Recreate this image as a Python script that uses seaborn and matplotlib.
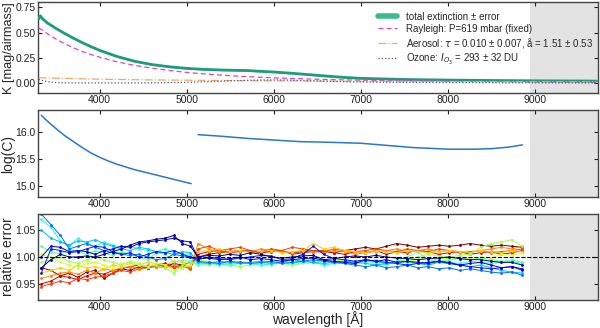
import numpy as np
import pandas as pd
import seaborn as sns
import matplotlib.pyplot as plt
from matplotlib.lines import Line2D

# --- extinction curve (top panel) ---
wl_k = [3300, 3320, 3340, 3400, 3500, 3600, 3700, 3800, 3900, 4000, 4200, 4400,
        4600, 4800, 5000, 5200, 5400, 5600, 5700, 5800, 6000, 6200, 6400, 6600,
        6800, 7000, 7500, 8000, 8500, 9000, 9500, 9700]
k_total = [0.635, 0.665, 0.640, 0.595, 0.540, 0.490, 0.443, 0.400, 0.360, 0.323, 0.262, 0.215,
           0.182, 0.160, 0.144, 0.134, 0.128, 0.124, 0.123, 0.117, 0.108, 0.096, 0.082, 0.068,
           0.055, 0.045, 0.034, 0.028, 0.024, 0.021, 0.019, 0.018]
k_err = [0.012, 0.012, 0.012, 0.011, 0.010, 0.010, 0.009, 0.009, 0.008, 0.008, 0.008, 0.007,
         0.007, 0.007, 0.007, 0.006, 0.006, 0.006, 0.006, 0.006, 0.006, 0.006, 0.006, 0.005,
         0.005, 0.005, 0.005, 0.005, 0.005, 0.005, 0.005, 0.005]
k_rayleigh = [0.545, 0.535, 0.525, 0.488, 0.434, 0.388, 0.348, 0.312, 0.282, 0.255, 0.209, 0.174,
              0.146, 0.123, 0.104, 0.089, 0.077, 0.066, 0.062, 0.058, 0.050, 0.044, 0.039, 0.034,
              0.030, 0.027, 0.021, 0.016, 0.0125, 0.010, 0.008, 0.0074]
k_aerosol = [0.052, 0.051, 0.051, 0.049, 0.047, 0.045, 0.043, 0.041, 0.039, 0.037, 0.034, 0.032,
             0.030, 0.028, 0.027, 0.025, 0.024, 0.022, 0.022, 0.021, 0.020, 0.019, 0.018, 0.017,
             0.017, 0.016, 0.014, 0.013, 0.012, 0.011, 0.010, 0.010]
k_ozone = [0.035, 0.030, 0.025, 0.012, 0.003, 0.001, 0.0, 0.0, 0.0, 0.0, 0.0, 0.0,
           0.001, 0.003, 0.006, 0.011, 0.017, 0.024, 0.026, 0.028, 0.030, 0.027, 0.022, 0.017,
           0.012, 0.009, 0.005, 0.003, 0.002, 0.001, 0.0, 0.0]

# --- instrument response (middle panel) ---
wl_c1 = [3330, 3400, 3500, 3600, 3700, 3800, 3900, 4000, 4100, 4200, 4400, 4600, 4800, 5000, 5050]
logc1 = [16.32, 16.21, 16.07, 15.94, 15.83, 15.72, 15.62, 15.54, 15.47, 15.41, 15.31, 15.23, 15.15, 15.07, 15.05]
wl_c2 = [5130, 5400, 5700, 6000, 6300, 6600, 7000, 7300, 7600, 8000, 8300, 8500, 8700, 8850]
logc2 = [15.96, 15.93, 15.89, 15.86, 15.83, 15.82, 15.80, 15.76, 15.72, 15.69, 15.69, 15.70, 15.73, 15.77]

# --- relative error of individual stars (bottom panel), per mille offsets from 1 ---
wl_r = [3330, 3440, 3550, 3650, 3750, 3850, 3950, 4050, 4150, 4250, 4350, 4450, 4550, 4650,
        4750, 4850, 4950, 5040,
        5130, 5250, 5370, 5490, 5610, 5730, 5850, 5970, 6090, 6210, 6330, 6450, 6570, 6690,
        6810, 6930, 7050, 7170, 7290, 7410, 7530, 7650, 7770, 7890, 8010, 8130, 8250, 8370,
        8490, 8610, 8730, 8850]
rel = [
    [-20, -5, 5, 0, 0, 2, 0, 5, 10, 15, 22, 28, 30, 33, 35, 40, 25, 20,
     0, 3, 2, 5, 3, 8, 5, 0, -2, 0, 2, 3, -5, -3, 0, 2, 0, 3, 0, -2, -3, -5, -3, -2, 0, -3, -5, -5, -8, -10, -10, -15],
    [0, 20, 18, 10, 12, 10, 5, 12, 15, 20, 18, 25, 28, 30, 32, 35, 30, 28,
     -3, -2, -5, -3, 0, -5, -3, -5, -8, -5, -3, -2, -6, -8, -10, -12, -5, -8, -5, -10, -8, -10, -12, -8, -10, -15, -12, -10, -15, -20, -18, -22],
    [-30, 15, 12, 8, 10, 15, 20, 18, 10, 5, 8, 0, 5, 10, 8, 12, 5, 0,
     -5, 0, -3, -5, -2, 0, 3, 2, -5, -3, 5, 20, 5, -3, -5, -8, -5, -8, -10, -12, -15, -12, -10, -8, -12, -15, -18, -20, -22, -20, -18, -25],
    [80, 60, 40, 15, 20, 25, 18, 12, 8, 5, 3, 5, 0, -5, -3, 5, 2, 0,
     -8, -10, -12, -8, -10, -12, -10, -8, -12, -10, -8, -5, -8, -10, -12, -15, -18, -15, -20, -18, -15, -20, -18, -22, -20, -25, -22, -25, -28, -30, -28, -34],
    [50, 35, 28, 22, 30, 28, 32, 25, 20, 15, 12, 18, 15, 10, 8, 5, 10, 8,
     -10, -12, -8, -10, -12, -10, -8, -12, -10, -5, -8, -10, -12, -10, -8, -10, -12, -15, -12, -10, -8, -12, -15, -10, -12, -15, -18, -15, -20, -25, -28, -30],
    [70, 55, 30, 20, 35, 25, 20, 28, 22, 18, 20, 15, 12, 10, 15, 8, 5, 3,
     -12, -10, -15, -12, -10, -12, -15, -12, -10, -12, -8, -10, -15, -12, -10, -12, -8, -10, -12, -8, -10, -12, -10, -8, -10, -12, -8, -10, -12, -10, -8, -12],
    [20, 10, 5, 15, 10, 5, 12, 8, 3, 10, 5, 0, -5, 8, 5, -10, -5, -8,
     -15, -12, -10, -15, -12, -10, -12, -15, -10, -12, -10, -8, -5, -10, -12, -10, -8, -5, -15, -8, 0, 10, -5, -8, -5, -3, -5, -2, -5, -8, -5, -10],
    [-10, -5, 0, -8, -12, -5, 0, -5, -10, -15, -8, -12, -18, -15, -20, -30, -15, -12,
     -10, -15, -12, -15, -18, -15, -12, -10, -12, -15, -12, -10, -8, -10, -5, -8, -10, -12, -15, -8, -5, 0, 5, 2, 0, 3, 5, 18, 25, 28, 32, 20],
    [5, 0, -10, -15, -20, -12, -10, -15, -20, -12, -10, -15, -18, -12, -15, -25, -20, -15,
     -5, -8, -10, -12, -8, -10, -12, -10, -8, -5, -10, -12, -8, -5, -8, -10, -5, -8, -10, -12, -8, -5, -3, -5, -2, 0, -3, 0, -2, 5, 3, 8],
    [-30, -25, -20, -25, -15, -20, -18, -22, -15, -18, -12, -15, -10, -12, -15, -8, -10, -12,
     10, 12, 15, 10, 12, 8, 10, 12, 8, 10, 12, 25, 15, 18, 12, 10, 8, 12, 10, 8, 12, 10, 8, 10, 12, 10, 8, 12, 10, 8, 12, 10],
    [-40, -35, -30, -28, -32, -25, -30, -22, -25, -20, -18, -22, -15, -18, -20, -15, -20, -18,
     25, 15, 10, 8, 12, 10, 15, 12, 10, 8, 12, 10, 8, 12, 10, 5, 8, 10, 12, 15, 10, 12, 15, 10, 12, 10, 8, 12, 15, 18, 15, 20],
    [-55, -50, -45, -48, -40, -42, -38, -35, -30, -25, -28, -22, -20, -18, -15, -20, -18, -22,
     15, 20, 12, 15, 18, 12, 10, 15, 12, 18, 15, 12, 10, 15, 12, 10, 12, 15, 12, 10, 15, 12, 10, 15, 12, 8, 10, 12, 8, 10, 12, 15],
    [-50, -45, -35, -38, -42, -35, -30, -32, -25, -22, -18, -15, -20, -15, -12, -18, -15, -20,
     5, 10, 12, 8, 10, 12, 8, 10, 12, 5, 8, 10, 12, 8, 5, 10, 8, 12, 5, 10, 8, 12, 10, 5, 8, 10, 5, 8, 10, 5, 8, 12],
    [-20, -25, -35, -30, -38, -28, -25, -40, -30, -22, -25, -18, -20, -15, -18, -12, -15, -10,
     0, 5, 8, 10, 12, 10, 8, 12, 10, 8, 10, 12, 10, 8, 12, 15, 18, 15, 20, 25, 22, 18, 20, 22, 20, 22, 25, 22, 20, 22, 20, 18],
]

bad_lo, bad_hi = 8940, 9750
xmin, xmax = 3290, 9720

sns.set_style("ticks", {"xtick.direction": "in", "ytick.direction": "in",
                        "axes.edgecolor": "#444444"})
plt.rcParams['font.family'] = ['Liberation Sans', 'DejaVu Sans']
plt.rcParams['mathtext.fontset'] = 'dejavusans'

fig = plt.figure(figsize=(6, 3.28), dpi=100)
ax1 = fig.add_axes([0.063, 0.7165, 0.934, 0.2765])
ax2 = fig.add_axes([0.063, 0.399, 0.934, 0.266])
ax3 = fig.add_axes([0.063, 0.0854, 0.934, 0.2622])

# top: extinction
kt = np.array(k_total)
ke = np.array(k_err)
ax1.fill_between(wl_k, kt - ke, kt + ke, color="#86d3b6", lw=0, zorder=2)
sns.lineplot(x=wl_k, y=k_total, ax=ax1, color="#1b9e77", lw=2, zorder=3)
sns.lineplot(x=wl_k, y=k_rayleigh, ax=ax1, color="#d946c8", lw=0.9, ls=(0, (4, 2.5)), zorder=3)
sns.lineplot(x=wl_k, y=k_aerosol, ax=ax1, color="#f5a860", lw=0.9, ls="-.", zorder=3)
sns.lineplot(x=wl_k, y=k_ozone, ax=ax1, color="#3a5aa0", lw=0.9, ls=":", zorder=3)
handles = [Line2D([], [], color="#3dba8e", lw=4),
           Line2D([], [], color="#d946c8", lw=0.9, ls=(0, (4, 2.5))),
           Line2D([], [], color="#f5a860", lw=0.9, ls="-."),
           Line2D([], [], color="#3a5aa0", lw=0.9, ls=":")]
labels = ["total extinction ± error",
          "Rayleigh: P=619 mbar (fixed)",
          r"Aerosol: $\tau$ = 0.010 ± 0.007, å = 1.51 ± 0.53",
          r"Ozone: $I_{O_3}$ = 293 ± 32 DU"]
ax1.legend(handles, labels, loc="upper right", bbox_to_anchor=(1.0, 0.95), frameon=False,
           fontsize=7, labelspacing=0.2, handlelength=2.0, handletextpad=0.9, borderaxespad=0.1)
ax1.set_ylim(-0.1, 0.8)
ax1.set_yticks([0.0, 0.25, 0.5, 0.75])
ax1.set_ylabel("K [mag/airmass]", fontsize=9.2)
ax1.yaxis.set_label_coords(-0.040, 0.5)

# middle: log(C)
sns.lineplot(x=wl_c1, y=logc1, ax=ax2, color="#2a78c8", lw=1.1)
sns.lineplot(x=wl_c2, y=logc2, ax=ax2, color="#2a78c8", lw=1.1)
ax2.set_ylim(14.8, 16.42)
ax2.set_yticks([15.0, 15.5, 16.0])
ax2.set_ylabel("log(C)", fontsize=10)
ax2.yaxis.set_label_coords(-0.040, 0.5)

# bottom: relative error per star
names = [f"s{i}" for i in range(len(rel))]
df = pd.DataFrame({
    "wl": wl_r * len(rel),
    "rel": [1 + v / 1000 for row in rel for v in row],
    "star": [n for n in names for _ in wl_r],
})
cmap = plt.get_cmap("jet")
pal = {n: cmap(i / (len(names) - 1)) for i, n in enumerate(names)}
sns.lineplot(data=df, x="wl", y="rel", hue="star", hue_order=names[::-1], palette=pal,
             ax=ax3, lw=0.7, marker="o", markersize=2, markeredgewidth=0, legend=False,
             estimator=None, sort=False)
ax3.axhline(1.0, color="k", ls="--", lw=0.8, zorder=5)
ax3.set_ylim(0.92, 1.08)
ax3.set_yticks([0.95, 1.0, 1.05])
ax3.set_ylabel("relative error", fontsize=10)
ax3.yaxis.set_label_coords(-0.040, 0.5)
ax3.set_xlabel("wavelength [Å]", fontsize=10)
ax3.xaxis.set_label_coords(0.5, -0.125)

for ax in (ax1, ax2, ax3):
    ax.axvspan(bad_lo, bad_hi, color="#e3e3e3", lw=0, zorder=0)
    ax.set_xlim(xmin, xmax)
    ax.set_xticks([4000, 5000, 6000, 7000, 8000, 9000])
    ax.tick_params(top=True, right=True, labelsize=7.5, length=3, width=0.8, pad=1.5, colors="#222222")
    if ax is not ax3:
        ax.set_xlabel("")
    for s in ax.spines.values():
        s.set_linewidth(1.0)

fig.savefig("out.png", dpi=100)
